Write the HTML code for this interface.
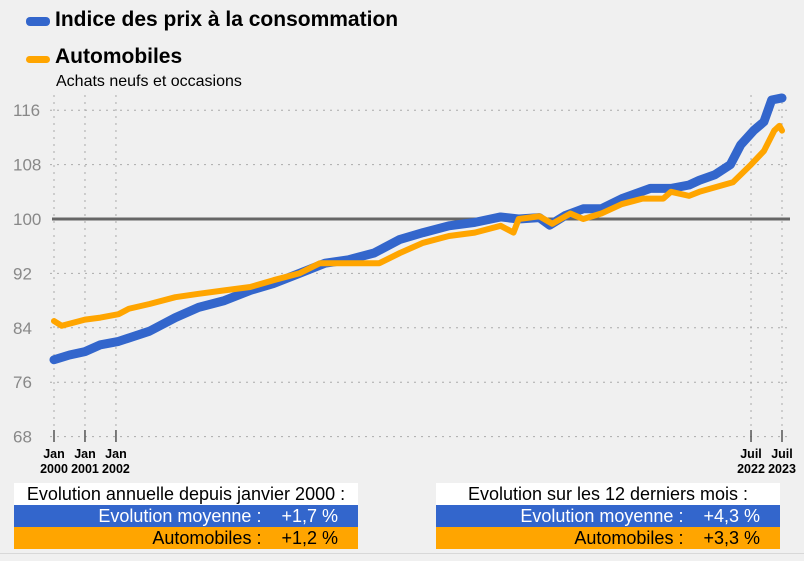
<!DOCTYPE html>
<html><head><meta charset="utf-8"><style>
body{margin:0;background:#f0f0f0;font-family:"Liberation Sans",sans-serif;}
#w{position:relative;width:804px;height:561px;overflow:hidden;background:#f0f0f0}
.t{position:absolute;font-weight:bold;font-size:21px;color:#000;left:55px}
.sw{position:absolute;left:26px;width:24px;height:7px;border-radius:4px}
.box{position:absolute;font-size:18px;height:22px;line-height:22px;white-space:pre}
</style></head><body><div id="w">
<div class="sw" style="top:17px;background:#3366cc;height:9px"></div>
<div class="t" style="top:8px">Indice des prix à la consommation</div>
<div class="sw" style="top:56px;background:#ffa500"></div>
<div class="t" style="top:45px">Automobiles</div>
<div style="position:absolute;left:56px;top:73px;font-size:16px">Achats neufs et occasions</div>
<svg id="s" width="804" height="561" style="position:absolute;left:0;top:0"></svg>
<div class="box" style="left:14px;top:483px;width:344px;background:#fff;text-align:center">Evolution annuelle depuis janvier 2000 :</div>
<div class="box" style="left:14px;top:505px;width:344px;background:#3366cc;color:#fff;text-align:right">Evolution moyenne :    +1,7 %    </div>
<div class="box" style="left:14px;top:527px;width:344px;background:#ffa500;text-align:right">Automobiles :    +1,2 %    </div>
<div class="box" style="left:436px;top:483px;width:344px;background:#fff;text-align:center">Evolution sur les 12 derniers mois :</div>
<div class="box" style="left:436px;top:505px;width:344px;background:#3366cc;color:#fff;text-align:right">Evolution moyenne :    +4,3 %    </div>
<div class="box" style="left:436px;top:527px;width:344px;background:#ffa500;text-align:right">Automobiles :    +3,3 %    </div>
<div style="position:absolute;left:0;top:553px;width:804px;height:1px;background:#d8d8d8"></div>
</div>
<script>
const yTicks=[68,76,84,92,100,108,116];
const xTickMonths=[0,12,24,270,282];
const xTickTop=["Jan","Jan","Jan","Juil","Juil"];
const xTickBottom=["2000","2001","2002","2022","2023"];
const cpiMonths=[0,6,12,18,25,37,47,56,66,76,85,95,105,114,124,134,143,153,163,173,180,188,192,198,205,212,220,231,239,246,250,256,262,266,271,275,278,282];
const cpiValues=[79.3,80,80.5,81.5,82,83.5,85.5,87,88,89.5,90.5,92,93.5,94,95,97,98,99,99.5,100.3,100,100.2,99.1,100.5,101.5,101.5,103,104.5,104.5,105,105.7,106.5,108,110.9,113,114.3,117.5,117.8];
const autoMonths=[0,3,12,18,25,29,37,47,56,66,76,85,95,103,114,126,134,143,153,163,173,178,180,188,193,200,205,212,220,228,236,239,246,250,263,270,275,279,281,282];
const autoValues=[85,84.3,85.2,85.5,86,86.8,87.5,88.5,89,89.5,90,91,92,93.5,93.5,93.5,95,96.5,97.5,98,99,98,100,100.4,99.3,100.8,100,100.8,102.2,103,103,104,103.4,104,105.4,108,110,113,113.7,113];
const X=m=>54+m*728/282, Y=v=>219-(v-100)*6.8;
const s=document.getElementById('s'),NS='http://www.w3.org/2000/svg';
function el(t,a){const e=document.createElementNS(NS,t);for(const k in a)e.setAttribute(k,a[k]);s.appendChild(e);return e;}
yTicks.forEach(v=>{
 if(v!==100){const g=el('line',{x1:50,x2:790,y1:Y(v),y2:Y(v),stroke:'#aaa','stroke-dasharray':'2,5'});
 
 }
 const t=el('text',{x:13,y:Y(v)+6,'font-size':17,fill:'#888','font-family':'Liberation Sans'});t.textContent=v;
 
 
});
xTickMonths.forEach((m,i)=>{
 const g=el('line',{x1:X(m),x2:X(m),y1:95,y2:436,stroke:'#aaa','stroke-dasharray':'2,5'});
 
 
 el('line',{x1:X(m),x2:X(m),y1:430,y2:442,stroke:'#555','stroke-width':1.5});
 [xTickTop[i],xTickBottom[i]].forEach((tx,j)=>{const t=el('text',{x:X(m),y:458+j*15,'font-size':12.5,'font-weight':'bold','text-anchor':'middle','font-family':'Liberation Sans'});t.textContent=tx;
 
 });
});
const base=el('line',{x1:52,x2:790,y1:Y(100),y2:Y(100),stroke:'#666','stroke-width':3});


function line(ms,vs,c,w,n){const p=el('polyline',{points:ms.map((m,i)=>X(m)+','+Y(vs[i])).join(' '),fill:'none',stroke:c,'stroke-width':w,'stroke-linejoin':'round','stroke-linecap':'round'});
 
 }
line(cpiMonths,cpiValues,'#3366cc',9,'cpi-line');
line(autoMonths,autoValues,'#ffa500',6,'auto-line');
</script></body></html>
